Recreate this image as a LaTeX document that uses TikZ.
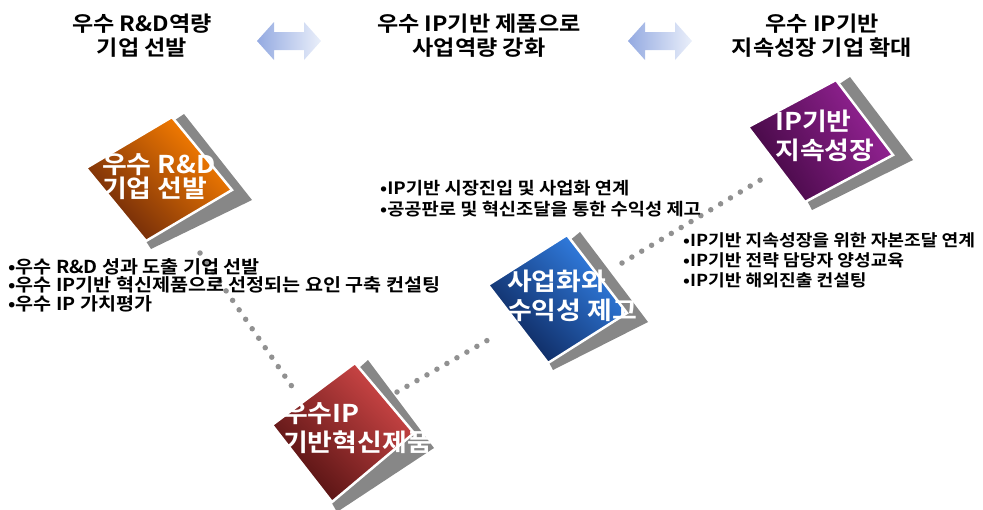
\documentclass[tikz,border=0pt]{standalone}
\usepackage{fontspec}
\usepackage{xcolor}
\usepackage{tikz}
\usetikzlibrary{arrows.meta, positioning, calc}
\setmainfont{Noto Sans CJK KR}[BoldFont=* Bold, FakeStretch=1.1]

\definecolor{orgdark}{RGB}{105,38,10}
\definecolor{orglight}{RGB}{255,130,0}
\definecolor{reddark}{RGB}{80,16,16}
\definecolor{redlight}{RGB}{210,72,72}
\definecolor{bluedark}{RGB}{12,36,88}
\definecolor{bluelight}{RGB}{52,132,235}
\definecolor{purpdark}{RGB}{66,8,66}
\definecolor{purplight}{RGB}{152,36,152}
\definecolor{backgray}{RGB}{135,135,135}
\definecolor{dotgray}{RGB}{145,145,145}
\definecolor{arrowdark}{RGB}{148,170,225}
\definecolor{arrowlight}{RGB}{234,239,250}

\begin{document}
\begin{tikzpicture}[x=1pt, y=-1pt,
    header/.style={font=\bfseries\fontsize{21}{24}\selectfont, align=center, inner sep=0pt},
    tiletext/.style={text=white, font=\bfseries\fontsize{24.5}{29}\selectfont, align=left, anchor=west, inner sep=0pt},
    bullets/.style={font=\bfseries\fontsize{16.5}{20}\selectfont, align=left, anchor=west, inner sep=0pt},
    tile/.style={draw=white, line width=2.5pt, line join=miter},
    backing/.style={fill=backgray},
    dots/.style={dotgray, line width=5.5pt, line cap=round, dash pattern=on 0pt off 11.5pt},
    twoway/.style={left color=arrowdark, right color=arrowlight}]

\useasboundingbox (0,0) rectangle (983,509);

% Headings
\node[header] (head1) at (142,36) {우수 R\&D역량\\기업 선발};
\node[header] (head2) at (479,36) {우수 IP기반 제품으로\\사업역량 강화};
\node[header] (head3) at (822,36) {우수 IP기반\\지속성장 기업 확대};

% Double arrows between headings
\foreach \x in {257,628} {
    \shade[twoway] (\x,41) -- ++(17,-19) -- ++(0,10) -- ++(30,0) -- ++(0,-10) -- ++(17,19)
        -- ++(-17,19) -- ++(0,-10) -- ++(-30,0) -- ++(0,10) -- cycle;
}

% Dotted path
\coordinate (rnd-out) at (200,253);
\coordinate (inno-in) at (293,388);
\coordinate (inno-out) at (397,392);
\coordinate (biz-in) at (495,336);
\coordinate (biz-out) at (622,263);
\coordinate (grow-in) at (762,179);
\draw[dots] (rnd-out) -- (inno-in);
\draw[dots] (inno-out) -- (biz-in);
\draw[dots] (biz-out) -- (grow-in);

% Tiles
\fill[backing] (184,114) -- (252,200) -- (151,249) -- (100,170) -- cycle;
\draw[tile, bottom color=orgdark, top color=orglight, shading angle=-45]
    (172,117) -- (232,190) -- (146,241) -- (86,168) -- cycle;

\fill[backing] (368,360) -- (434,448) -- (337,512) -- (290,430) -- cycle;
\draw[tile, bottom color=reddark, top color=redlight, shading angle=-45]
    (355,363) -- (414,433) -- (332,502) -- (272,425) -- cycle;

\fill[backing] (580,232) -- (648,322) -- (553,370) -- (510,290) -- cycle;
\draw[tile, bottom color=bluedark, top color=bluelight, shading angle=-45]
    (567,235) -- (627,313) -- (548,363) -- (488,285) -- cycle;

\fill[backing] (850,77) -- (913,160) -- (812,210) -- (770,130) -- cycle;
\draw[tile, bottom color=purpdark, top color=purplight, shading angle=-60]
    (836,80) -- (893,155) -- (805,202) -- (748,127) -- cycle;

% Tile labels
\node[tiletext, font=\bfseries\fontsize{24.5}{24}\selectfont] (rnd) at (102,177) {우수 R\&D\\기업 선발};
\node[tiletext] (inno) at (283,428) {우수IP\\기반혁신제품};
\node[tiletext] (biz) at (507,296) {사업화와\\수익성 제고};
\node[tiletext] (grow) at (775,136) {IP기반\\지속성장};

% Bullet lists
\node[bullets, font=\bfseries\fontsize{17.8}{18.5}\selectfont] (rnd-list) at (8,285)
    {•우수 R\&D 성과 도출 기업 선발\\•우수 IP기반 혁신제품으로 선정되는 요인 구축 컨설팅\\•우수 IP 가치평가};
\node[bullets, font=\bfseries\fontsize{17}{21}\selectfont] (biz-list) at (380,199)
    {•IP기반 시장진입 및 사업화 연계\\•공공판로 및 혁신조달을 통한 수익성 제고};
\node[bullets] (grow-list) at (683,260)
    {•IP기반 지속성장을 위한 자본조달 연계\\•IP기반 전략 담당자 양성교육\\•IP기반 해외진출 컨설팅};
\end{tikzpicture}
\end{document}
